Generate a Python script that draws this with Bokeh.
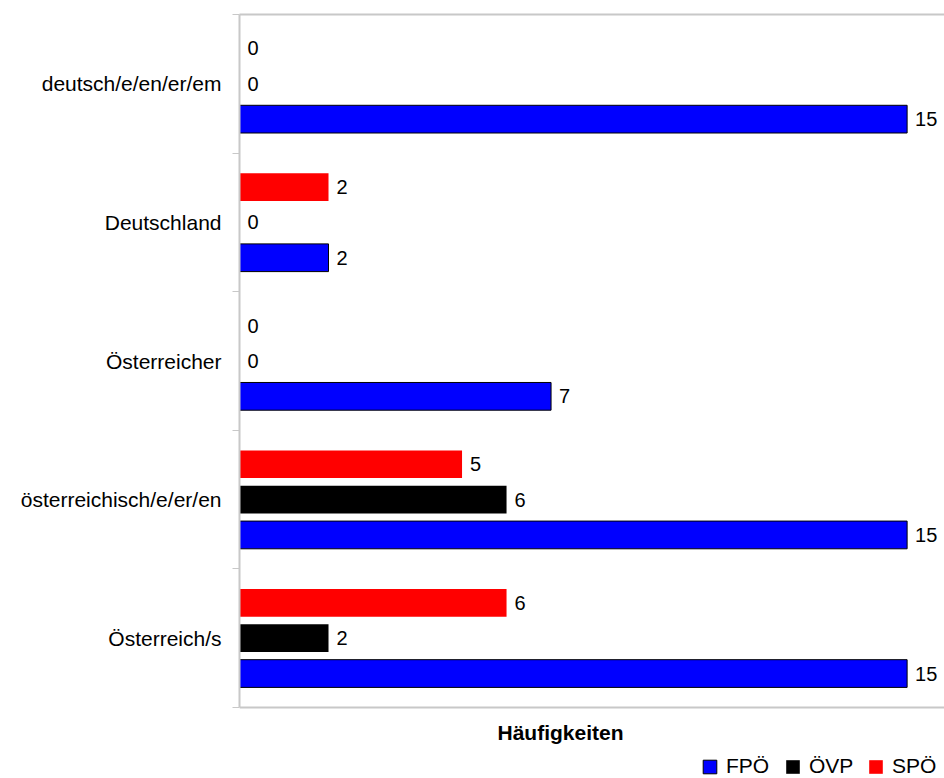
from bokeh.plotting import figure
from bokeh.models import Range1d, FixedTicker, Legend, LegendItem, Label, ColumnDataSource, Span
from bokeh.embed import file_html
from bokeh.resources import INLINE
from bokeh.core.properties import value

categories = ["deutsch/e/en/er/em", "Deutschland", "Österreicher", "österreichisch/e/er/en", "Österreich/s"]
fpo = [15, 2, 7, 15, 15]
ovp = [0, 0, 0, 6, 2]
spo = [0, 2, 0, 5, 6]
series_names = ["FPÖ", "ÖVP", "SPÖ"]
axis_title = "Häufigkeiten"

FONT = "Liberation Sans"
FS = "20px"
n = len(categories)
centers = [n - i - 0.5 for i in range(n)]
offset = 0.255
bar_h = 0.2

W, H = 944, 778
top_px, bottom_px = 14, 707
unit_px = (bottom_px - top_px) / n
y_start = -(H - bottom_px) / unit_px

p = figure(width=W, height=H, output_backend="svg", toolbar_location=None,
           x_range=Range1d(0, 15.84), y_range=Range1d(y_start, n),
           x_axis_location="above",
           min_border_left=239, min_border_right=0, min_border_top=top_px, min_border_bottom=0)
p.outline_line_color = None
p.grid.visible = False
p.background_fill_color = "white"
p.border_fill_color = "white"

axis_gray = "#c8c8c8"

# y axis: labels at centers, small ticks at category boundaries
yax = p.yaxis[0]
yax.bounds = (0, n)
yax.ticker = FixedTicker(ticks=centers, minor_ticks=list(range(n + 1)))
yax.major_label_overrides = {c: categories[i] for i, c in enumerate(centers)}
yax.major_tick_out = 0
yax.major_tick_in = 0
yax.minor_tick_out = 7
yax.minor_tick_in = 0
yax.minor_tick_line_color = axis_gray
yax.minor_tick_line_width = 1
yax.axis_line_color = axis_gray
yax.axis_line_width = 2
yax.major_label_standoff = 11
yax.major_label_text_font = FONT
yax.major_label_text_font_size = "21px"
yax.major_label_text_color = "black"

# top axis: line only
xax = p.xaxis[0]
xax.ticker = FixedTicker(ticks=[])
xax.major_tick_line_color = None
xax.minor_tick_line_color = None
xax.major_label_text_font_size = "0px"
xax.axis_line_color = axis_gray
xax.axis_line_width = 2

# bottom line of plot area
p.add_layout(Span(location=0, dimension="width", line_color=axis_gray, line_width=2))

src = ColumnDataSource(dict(
    y_spo=[c + offset for c in centers],
    y_ovp=centers,
    y_fpo=[c - offset for c in centers],
    fpo=fpo, ovp=ovp, spo=spo,
    fpo_t=[str(v) for v in fpo], ovp_t=[str(v) for v in ovp], spo_t=[str(v) for v in spo],
))

r_fpo = p.hbar(y="y_fpo", left=0, right="fpo", height=bar_h, source=src,
               fill_color="#0000ff", line_color="black", line_width=1)
r_ovp = p.hbar(y="y_ovp", left=0, right="ovp", height=bar_h, source=src,
               fill_color="black", line_color=None)
r_spo = p.hbar(y="y_spo", left=0, right="spo", height=bar_h, source=src,
               fill_color="#ff0000", line_color=None)

for ycol, xcol, tcol in [("y_fpo", "fpo", "fpo_t"), ("y_ovp", "ovp", "ovp_t"), ("y_spo", "spo", "spo_t")]:
    p.text(x=xcol, y=ycol, text=tcol, source=src, x_offset=8,
           text_align="left", text_baseline="middle",
           text_font=value(FONT), text_font_size=FS, text_color="black")

title = Label(x=321, y=46, x_units="screen", y_units="screen", text=axis_title,
              text_align="center", text_baseline="middle",
              text_font=FONT, text_font_size="21px", text_font_style="bold", text_color="black")
p.add_layout(title)

legend = Legend(items=[LegendItem(label=series_names[0], renderers=[r_fpo]),
                       LegendItem(label=series_names[1], renderers=[r_ovp]),
                       LegendItem(label=series_names[2], renderers=[r_spo])],
                orientation="horizontal", location=(462, 0),
                glyph_width=17, glyph_height=17, label_text_font=FONT,
                label_text_font_size="21px", label_text_color="black",
                label_standoff=8, spacing=6, label_width=52,
                padding=0, margin=0, border_line_color=None, background_fill_alpha=0)
p.add_layout(legend)

open("out.html", "w").write(file_html(p, INLINE))
